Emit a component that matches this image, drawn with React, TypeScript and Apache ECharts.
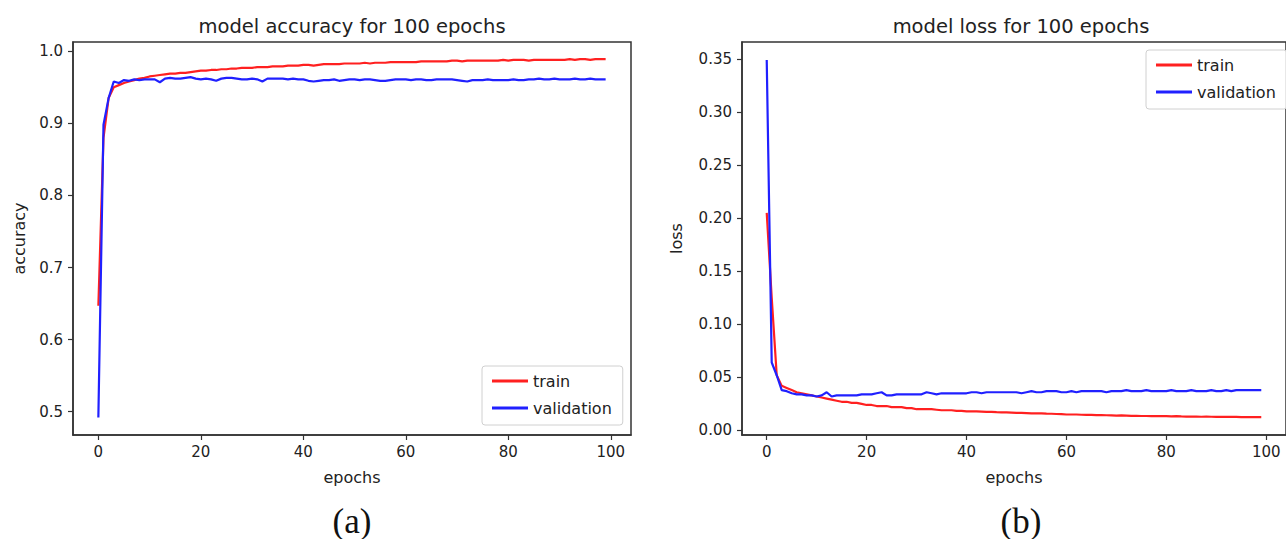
import React, { useEffect, useRef } from "react";
import * as echarts from "echarts";

const epochs: number[] = Array.from({ length: 100 }, (_, i) => i);

const trainAcc: number[] = [
  0.647, 0.88, 0.935, 0.95, 0.953, 0.956, 0.958, 0.96, 0.962, 0.963,
  0.965, 0.966, 0.967, 0.968, 0.969, 0.969, 0.97, 0.97, 0.971, 0.972,
  0.973, 0.973, 0.974, 0.974, 0.975, 0.975, 0.976, 0.976, 0.977, 0.977,
  0.977, 0.978, 0.978, 0.978, 0.979, 0.979, 0.979, 0.98, 0.98, 0.98,
  0.981, 0.981, 0.98, 0.981, 0.982, 0.982, 0.982, 0.982, 0.983, 0.983,
  0.983, 0.983, 0.984, 0.983, 0.984, 0.984, 0.984, 0.985, 0.985, 0.985,
  0.985, 0.985, 0.985, 0.986, 0.986, 0.986, 0.986, 0.986, 0.986, 0.987,
  0.987, 0.986, 0.987, 0.987, 0.987, 0.987, 0.987, 0.987, 0.987, 0.988,
  0.987, 0.988, 0.988, 0.988, 0.987, 0.988, 0.988, 0.988, 0.988, 0.988,
  0.988, 0.988, 0.989, 0.988, 0.989, 0.989, 0.988, 0.989, 0.989, 0.989,
];

const valAcc: number[] = [
  0.492, 0.898, 0.935, 0.958, 0.956, 0.96, 0.959, 0.961, 0.96, 0.961,
  0.961, 0.961, 0.957, 0.962, 0.963, 0.962, 0.962, 0.963, 0.964, 0.962,
  0.961, 0.962, 0.961, 0.959, 0.962, 0.963, 0.963, 0.962, 0.961, 0.961,
  0.962, 0.961, 0.958, 0.962, 0.962, 0.962, 0.962, 0.961, 0.962, 0.961,
  0.961, 0.959, 0.958, 0.959, 0.96, 0.96, 0.961, 0.959, 0.96, 0.961,
  0.961, 0.96, 0.961, 0.961, 0.96, 0.959, 0.959, 0.96, 0.961, 0.961,
  0.961, 0.96, 0.961, 0.961, 0.96, 0.96, 0.961, 0.961, 0.961, 0.961,
  0.96, 0.959, 0.958, 0.96, 0.96, 0.96, 0.961, 0.96, 0.96, 0.96,
  0.96, 0.961, 0.96, 0.96, 0.961, 0.961, 0.962, 0.961, 0.961, 0.962,
  0.961, 0.961, 0.961, 0.962, 0.961, 0.961, 0.962, 0.961, 0.961, 0.961,
];

const trainLoss: number[] = [
  0.205, 0.125, 0.052, 0.042, 0.04, 0.038, 0.036, 0.035, 0.034, 0.033,
  0.032, 0.031, 0.03, 0.029, 0.028, 0.027, 0.027, 0.026, 0.026, 0.025,
  0.024, 0.024, 0.023, 0.023, 0.023, 0.022, 0.022, 0.022, 0.021, 0.021,
  0.02, 0.02, 0.02, 0.02, 0.0195, 0.019, 0.019, 0.019, 0.0185, 0.0185,
  0.018, 0.018, 0.018, 0.0178, 0.0175, 0.0175, 0.0172, 0.017, 0.017, 0.0168,
  0.0165, 0.0165, 0.0163, 0.016, 0.0162, 0.016, 0.0158, 0.0157, 0.0155, 0.0154,
  0.015, 0.015, 0.015, 0.0148, 0.0147, 0.0146, 0.0145, 0.0145, 0.0143, 0.0142,
  0.014, 0.0141, 0.014, 0.0138, 0.0137, 0.0136, 0.0136, 0.0135, 0.0135, 0.0134,
  0.0135, 0.0133, 0.0134, 0.0132, 0.0131, 0.0131, 0.013, 0.0129, 0.013, 0.0129,
  0.0128, 0.0128, 0.0127, 0.0128, 0.0127, 0.0126, 0.0126, 0.0126, 0.0125, 0.0125,
];

const valLoss: number[] = [
  0.349, 0.064, 0.052, 0.038, 0.037, 0.035, 0.034, 0.034, 0.033, 0.033,
  0.032, 0.033, 0.036, 0.032, 0.033, 0.033, 0.033, 0.033, 0.033, 0.034,
  0.034, 0.034, 0.035, 0.036, 0.033, 0.033, 0.034, 0.034, 0.034, 0.034,
  0.034, 0.034, 0.036, 0.035, 0.034, 0.035, 0.035, 0.035, 0.035, 0.035,
  0.035, 0.036, 0.036, 0.035, 0.036, 0.036, 0.036, 0.036, 0.036, 0.036,
  0.036, 0.035, 0.036, 0.037, 0.036, 0.036, 0.037, 0.037, 0.037, 0.036,
  0.036, 0.037, 0.036, 0.037, 0.037, 0.037, 0.037, 0.037, 0.036, 0.037,
  0.037, 0.037, 0.038, 0.037, 0.037, 0.037, 0.038, 0.037, 0.037, 0.037,
  0.037, 0.038, 0.037, 0.037, 0.037, 0.038, 0.037, 0.037, 0.037, 0.038,
  0.037, 0.037, 0.038, 0.037, 0.038, 0.038, 0.038, 0.038, 0.038, 0.038,
];

const xTicks: number[] = [0, 20, 40, 60, 80, 100];
const accTicks: number[] = [0.5, 0.6, 0.7, 0.8, 0.9, 1.0];
const lossTicks: number[] = [0, 0.05, 0.1, 0.15, 0.2, 0.25, 0.3, 0.35];

const FONT = "DejaVu Sans";
const TXT = "#222";
const RED = "#ff2020";
const BLUE = "#2020ff";

function xAxis(gridIndex: number) {
  return {
    type: "value",
    gridIndex,
    min: -4.95,
    max: 103.95,
    name: "epochs",
    nameLocation: "middle",
    nameGap: 34,
    nameTextStyle: { fontFamily: FONT, fontSize: 16, color: TXT },
    axisLine: { show: true, onZero: false, lineStyle: { color: "#333", width: 1.5 } },
    axisTick: { show: true, length: 5, customValues: xTicks, lineStyle: { color: "#333", width: 1.2 } },
    axisLabel: {
      customValues: xTicks,
      margin: 9,
      fontFamily: FONT,
      fontSize: 15,
      color: TXT,
      showMinLabel: true,
      showMaxLabel: true,
    },
    splitLine: { show: false },
  };
}

function yAxis(gridIndex: number, min: number, max: number, ticks: number[], digits: number, name: string, gap: number) {
  return {
    type: "value",
    gridIndex,
    min,
    max,
    name,
    nameLocation: "middle",
    nameGap: gap,
    nameTextStyle: { fontFamily: FONT, fontSize: 16, color: TXT },
    axisLine: { show: true, onZero: false, lineStyle: { color: "#333", width: 1.5 } },
    axisTick: { show: true, length: 5, customValues: ticks, lineStyle: { color: "#333", width: 1.2 } },
    axisLabel: {
      customValues: ticks,
      margin: 10,
      fontFamily: FONT,
      fontSize: 15,
      color: TXT,
      formatter: (v: number) => v.toFixed(digits),
    },
    splitLine: { show: false },
  };
}

function legend(left: number, top: number) {
  return {
    data: ["train", "validation"],
    orient: "vertical",
    left,
    top,
    icon: "rect",
    itemWidth: 36,
    itemHeight: 3,
    itemGap: 11,
    padding: [7, 11, 9, 10],
    backgroundColor: "rgba(255,255,255,0.85)",
    borderColor: "#d0d0d0",
    borderWidth: 1,
    borderRadius: 3,
    selectedMode: false,
    textStyle: { fontFamily: FONT, fontSize: 16, color: TXT },
  };
}

function line(name: string, values: number[], color: string, idx: number) {
  return {
    type: "line",
    name,
    xAxisIndex: idx,
    yAxisIndex: idx,
    data: epochs.map((e, i) => [e, values[i]]),
    showSymbol: false,
    symbol: "none",
    itemStyle: { color },
    lineStyle: { color, width: 2.2 },
  };
}

export default function App() {
  const ref = useRef<HTMLDivElement>(null);
  useEffect(() => {
    if (!ref.current) return;
    const chart = echarts.init(ref.current, undefined, { renderer: "svg" });
    chart.setOption({
      animation: false,
      backgroundColor: "#fff",
      grid: [
        { left: 73, top: 42, width: 558, height: 393, show: true, borderColor: "#333", borderWidth: 1.5, backgroundColor: "transparent" },
        { left: 742, top: 42, width: 558, height: 393, show: true, borderColor: "#333", borderWidth: 1.5, backgroundColor: "transparent" },
      ],
      xAxis: [xAxis(0), xAxis(1)],
      yAxis: [
        yAxis(0, 0.4677, 1.0128, accTicks, 1, "accuracy", 46),
        yAxis(1, -0.0043, 0.366, lossTicks, 2, "loss", 58),
      ],
      legend: [legend(482, 366), legend(1146, 50)],
      series: [
        line("train", trainAcc, RED, 0),
        line("validation", valAcc, BLUE, 0),
        line("train", trainLoss, RED, 1),
        line("validation", valLoss, BLUE, 1),
      ],
      graphic: [
        {
          type: "text",
          x: 352,
          y: 26,
          style: { text: "model accuracy for 100 epochs", fontFamily: FONT, fontSize: 19.5, fill: TXT, textAlign: "center", textVerticalAlign: "middle" },
        },
        {
          type: "text",
          x: 1021,
          y: 26,
          style: { text: "model loss for 100 epochs", fontFamily: FONT, fontSize: 19.5, fill: TXT, textAlign: "center", textVerticalAlign: "middle" },
        },
        {
          type: "text",
          x: 352,
          y: 521,
          style: { text: "(a)", fontFamily: "Liberation Serif", fontSize: 35, fill: "#111", textAlign: "center", textVerticalAlign: "middle" },
        },
        {
          type: "text",
          x: 1021,
          y: 521,
          style: { text: "(b)", fontFamily: "Liberation Serif", fontSize: 35, fill: "#111", textAlign: "center", textVerticalAlign: "middle" },
        },
      ],
    });
    return () => chart.dispose();
  }, []);
  return (
    <div
      ref={ref}
      style={{ position: "absolute", left: 0, top: 0, width: 1286, height: 539 }}
    />
  );
}
